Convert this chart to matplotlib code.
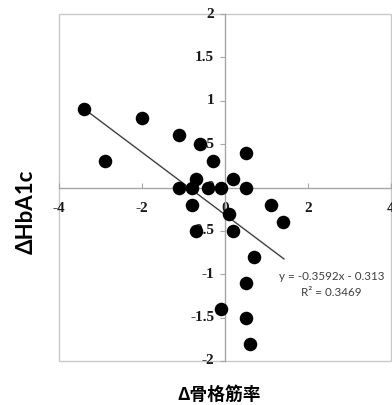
import matplotlib
matplotlib.use("Agg")
import matplotlib.pyplot as plt
from matplotlib.patches import Rectangle
import numpy as np

x_vals = [-3.4, -2.9, -2.0, -1.1, -0.6, -0.3, 0.5, -0.7, 0.2, -1.1, -0.8, -0.4, -0.1, 0.5,
          -0.8, 1.1, 0.1, 1.4, -0.7, 0.2, 0.7, 0.5, -0.1, 0.5, 0.6]
y_vals = [0.9, 0.3, 0.8, 0.6, 0.5, 0.3, 0.4, 0.1, 0.1, 0.0, 0.0, 0.0, 0.0, 0.0,
          -0.2, -0.2, -0.3, -0.4, -0.5, -0.5, -0.8, -1.1, -1.4, -1.5, -1.8]
slope = -0.3592
intercept = -0.313
fit_x = [-3.4, 1.42]
x_ticks = [-4, -2, 0, 2, 4]
y_ticks = [-2, -1.5, -1, -0.5, 0, 0.5, 1, 1.5, 2]
x_label = "Δ骨格筋率"
y_label = "ΔHbA1c"
eq_text = "y = -0.3592x - 0.313"
r2_text = "R² = 0.3469"

W, H = 392, 405
fig = plt.figure(figsize=(W / 100, H / 100), dpi=100)
ax = fig.add_axes([59 / W, 1 - 361 / H, (391 - 59) / W, (361 - 14) / H])
ax.set_xlim(-4, 4)
ax.set_ylim(-2, 2)

grey = "#a6a6a6"
for s in ["top", "right"]:
    ax.spines[s].set_visible(False)
ax.spines["left"].set_position(("data", 0))
ax.spines["bottom"].set_position(("data", 0))
for s in ["left", "bottom"]:
    ax.spines[s].set_color(grey)
    ax.spines[s].set_linewidth(1.0)
ax.add_patch(Rectangle((0, 0), 1, 1, transform=ax.transAxes, fill=False,
                       edgecolor="#c8c8c8", linewidth=1.0, clip_on=False, zorder=1))

ax.set_xticks(x_ticks)
ax.set_yticks(y_ticks)
ax.set_xticklabels([])
ax.set_yticklabels([])
ax.tick_params(axis="x", direction="in", length=3.5, color=grey, width=0.8)
ax.tick_params(axis="y", direction="out", length=3.5, color=grey, width=0.8)

tick_font = dict(family="Liberation Serif", weight="bold", size=11, color="#1a1a1a")
for t in x_ticks:
    ax.text(t, -0.24, f"{t:g}", ha="center", va="center", zorder=2, clip_on=False, **tick_font)
for t in y_ticks:
    ax.text(-0.26, t, f"{t:g}", ha="right", va="center", zorder=2, clip_on=False, **tick_font)

ax.scatter(x_vals, y_vals, s=95, color="black", zorder=4, clip_on=False, linewidths=0)
fx = np.array(fit_x)
ax.plot(fx, slope * fx + intercept, color="#404040", linewidth=1.0, zorder=3)

ax.text(1.3, -1.03, eq_text, fontsize=8.4, family="Lato", color="#404040", ha="left", va="center")
ax.text(2.55, -1.21, r2_text, fontsize=8.4, family="Lato", color="#404040", ha="center", va="center")

fig.text(26 / W, 1 - 212 / H, y_label, rotation=90, ha="center", va="center",
         fontsize=16, fontweight="bold", family=["Lato", "DejaVu Sans"])
fig.text(219 / W, 1 - 395 / H, x_label, ha="center", va="center",
         fontsize=12.8, fontweight="bold", family=["Noto Sans CJK JP", "DejaVu Sans"])

fig.savefig("out.png", dpi=100)
